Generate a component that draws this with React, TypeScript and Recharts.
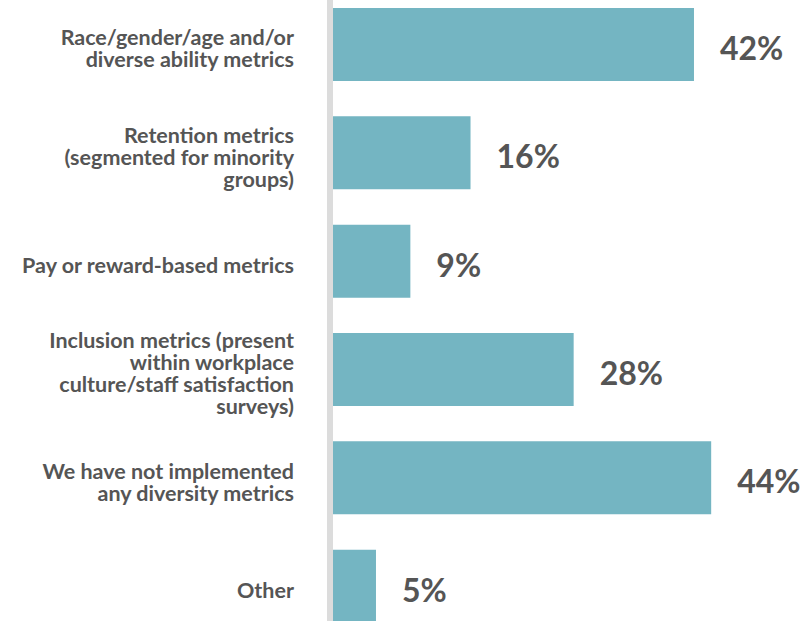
import { BarChart, Bar, XAxis, YAxis, LabelList } from 'recharts'

const categories = [
  'Race/gender/age and/or\ndiverse ability metrics',
  'Retention metrics\n(segmented for minority\ngroups)',
  'Pay or reward-based metrics',
  'Inclusion metrics (present\nwithin workplace\nculture/staff satisfaction\nsurveys)',
  'We have not implemented\nany diversity metrics',
  'Other',
]

const shares = [42, 16, 9, 28, 44, 5]

const data = categories.map((name, i) => ({ name, value: shares[i] }))

const TEXT = '#555555'
const BAR = '#74b5c2'
const LINE_H = 22

// multi-line category label, right aligned against the axis
function CategoryTick(props: any) {
  const { x, y, payload } = props
  const lines: string[] = String(payload.value).split('\n')
  const start = -((lines.length - 1) * LINE_H) / 2 + 4
  return (
    <text
      x={x}
      y={y}
      textAnchor="end"
      fill={TEXT}
      fontFamily="Lato, sans-serif"
      fontWeight={700}
      fontSize={21.5}
      dominantBaseline="central"
    >
      {lines.map((line, i) => (
        <tspan key={i} x={x} y={y + start + i * LINE_H}>
          {line}
        </tspan>
      ))}
    </text>
  )
}

export default function App() {
  return (
    <div
      style={{
        position: 'absolute',
        left: 0,
        top: 0,
        width: 804,
        height: 621,
        overflow: 'hidden',
        background: '#fff',
      }}
    >
      <div style={{ position: 'absolute', left: 0, top: -10 }}>
        <BarChart
          width={804}
          height={650}
          data={data}
          layout="vertical"
          margin={{ top: 0, right: 0, bottom: 0, left: 0 }}
          barCategoryGap={0}
        >
          <XAxis type="number" hide domain={[-0.35, 54.8]} />
          <YAxis
            type="category"
            dataKey="name"
            width={330}
            tickLine={false}
            tickMargin={30}
            axisLine={{ stroke: '#dcdcdc', strokeWidth: 6 }}
            tick={<CategoryTick />}
            interval={0}
          />
          <Bar dataKey="value" fill={BAR} barSize={73} isAnimationActive={false}>
            <LabelList
              dataKey="value"
              position="right"
              offset={26}
              formatter={(v: any) => `${v}%`}
              fill={TEXT}
              fontFamily="Lato, sans-serif"
              fontWeight={700}
              fontSize={32}
              dy={4}
            />
          </Bar>
        </BarChart>
      </div>
    </div>
  )
}
